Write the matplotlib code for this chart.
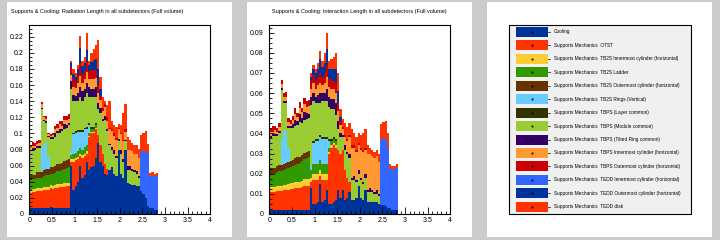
import numpy as np
import matplotlib.pyplot as plt
from matplotlib.patches import Rectangle
from matplotlib.ticker import MultipleLocator, FuncFormatter

plt.rcParams['font.family'] = ['Liberation Sans', 'DejaVu Sans']

# bin edges of the eta histograms (0.05 wide, 0 .. 2.85)
edges = np.linspace(0, 2.85, 58)

labels = [
    "Cooling",
    "Supports Mechanics  OTST",
    "Supports Mechanics  TB2S Innermost cylinder (horizontal)",
    "Supports Mechanics  TB2S Ladder",
    "Supports Mechanics  TB2S Outermost cylinder (horizontal)",
    "Supports Mechanics  TB2S Rings (Vertical)",
    "Supports Mechanics  TBPS (Layer common)",
    "Supports Mechanics  TBPS (Module common)",
    "Supports Mechanics  TBPS (Tilted Ring common)",
    "Supports Mechanics  TBPS Innermost cylinder (horizontal)",
    "Supports Mechanics  TBPS Outermost cylinder (horizontal)",
    "Supports Mechanics  TEDD Innermost cylinder (horizontal)",
    "Supports Mechanics  TEDD Outermost cylinder (horizontal)",
    "Supports Mechanics  TEDD disk",
]
colors = ['#003399', '#ff3300', '#ffcc33', '#339900', '#663300', '#66ccff', '#333300',
          '#99cc33', '#330066', '#ff9933', '#cc0000', '#3366ff', '#003399', '#ff3300']

# ---- radiation length ----
cool_r = [.007, .007, .007, .007, .007, .007, .008, .008, .008, .009,
          .008, .008, .008, .008, .008, .008, .008, .008, .060, .030,
          .035, .040, .060, .045, .048, .065, .055, .058, .060, .070,
          .088, .065, .060, .050, .048, .055, .058, .050, .047, .080,
          .050, .045, .080, .038, .037, .036, .036, .035, .035, .028,
          .025, .020, .010, .007, .007, .005, .005]
otst_r = [.019, .020, .020, .021, .021, .021, .022, .022, .022, .023,
          .023, .024, .024, .025, .025, .026, .027, .027, .005, .035,
          .032, .028, .012, .025, .024, .010, .040, .042, .040, .035,
          .010, .020, .015, .012, .008, 0, 0, 0, 0, 0,
          0, 0, 0, 0, 0, 0, 0, 0, 0, 0,
          0, 0, 0, 0, 0, 0, 0]
tb2s_in_r = [.004, .004, .004, .004, .004, .004, .004, .004, .004, .004,
             .004, .004, .005, .004, .004, .005, .004, .004, .003, .003,
             .003, .003, .003, .003, .003, .003, .002, .002, .002, .002,
             0, 0, 0, 0, 0, 0, 0, 0, 0, 0,
             0, 0, 0, 0, 0, 0, 0, 0, 0, 0,
             0, 0, 0, 0, 0, 0, 0]
tb2s_lad_r = [.012, .012, .012, .013, .013, .013, .013, .014, .014, .014,
              .015, .015, .016, .016, .017, .017, .018, .019, .005, .006,
              .006, .007, .007, .007, .008, .008, .004, .004, .004, .004,
              0, 0, 0, 0, 0, 0, 0, 0, 0, 0,
              0, 0, 0, 0, 0, 0, 0, 0, 0, 0,
              0, 0, 0, 0, 0, 0, 0]
tb2s_out_r = [.006, .006, .006, .007, .007, .007, .007, .008, .008, .008,
              .008, .009, .009, .009, .009, .010, .010, .010, 0, 0,
              0, 0, 0, 0, 0, 0, 0, 0, 0, 0,
              0, 0, 0, 0, 0, 0, 0, 0, 0, 0,
              0, 0, 0, 0, 0, 0, 0, 0, 0, 0,
              0, 0, 0, 0, 0, 0, 0]
rings_r = [0, 0, 0, 0, 0, .030, .033, .033, .015, 0,
           0, 0, 0, 0, 0, 0, 0, 0, .005, .025,
           .025, .024, .020, .022, .022, .020, .010, 0, 0, 0,
           0, 0, 0, 0, 0, 0, 0, 0, 0, 0,
           0, 0, 0, 0, 0, 0, 0, 0, 0, 0,
           0, 0, 0, 0, 0, 0, 0]
layer_r = [0, 0, 0, 0, 0, 0, 0, 0, 0, 0,
           0, 0, 0, 0, 0, 0, 0, 0, 0, .002,
           .002, .002, .002, .002, .002, .002, .002, .002, .002, .002,
           0, 0, 0, 0, 0, 0, 0, 0, 0, 0,
           0, 0, 0, 0, 0, 0, 0, 0, 0, 0,
           0, 0, 0, 0, 0, 0, 0]
module_r = [.030, .031, .031, .030, .030, .048, .028, .024, .024, .035,
            .035, .036, .038, .039, .040, .040, .040, .042, .077, .039,
            .037, .036, .041, .036, .038, .042, .032, .037, .037, .032,
            .032, .040, .040, .055, .047, .030, .022, .025, .023, .010,
            .025, .020, .010, .017, .017, .017, .016, .015, .010, 0,
            0, 0, 0, 0, 0, 0, 0]
tilted_r = [.002, .002, .002, .002, .002, .002, .002, .002, .002, .002,
            .002, .004, .003, .005, .002, .006, .004, .003, .010, .008,
            .006, .010, .012, .012, .010, .012, .012, .010, .010, .012,
            .008, .006, .003, .004, .003, .002, .003, .004, .002, .003,
            .004, .003, .002, .004, .005, .003, .002, .003, .002, 0,
            0, 0, 0, 0, 0, 0, 0]
tbps_in_r = [.003, .002, .002, .003, .004, .004, .003, .003, .002, .002,
             .003, .005, .004, .006, .004, .005, .006, .005, .008, .010,
             .010, .012, .014, .010, .012, .014, .010, .012, .012, .012,
             .012, .010, .010, .012, .010, .018, .020, .018, .020, .012,
             .020, .022, .010, .020, .020, .022, .020, .022, .022, 0,
             0, 0, 0, 0, 0, 0, 0]
tbps_out_r = [.003, .005, .004, .003, .004, .003, .002, .004, .002, .002,
              .003, .004, .005, .004, .006, .005, .004, .006, .010, .010,
              .008, .010, .015, .012, .010, .012, .010, .012, .012, .010,
              .010, .006, .004, .003, .004, .002, .002, .003, .002, .002,
              .002, .002, .003, 0, 0, 0, 0, 0, 0, 0,
              0, 0, 0, 0, 0, 0, 0]
tedd_in_r = [0, 0, 0, 0, 0, 0, 0, 0, 0, 0,
             0, 0, 0, 0, 0, 0, 0, 0, 0, 0,
             0, 0, 0, 0, 0, 0, 0, 0, 0, 0,
             0, 0, 0, 0, 0, 0, 0, 0, 0, 0,
             0, 0, 0, 0, 0, 0, 0, 0, 0, .050,
             .053, .058, .065, .040, .040, .042, .042]
tedd_out_r = [0, 0, 0, 0, 0, 0, 0, 0, 0, 0,
              0, 0, 0, 0, 0, 0, 0, 0, .004, .006,
              .006, .008, .020, .010, .010, .016, .008, .010, .012, .013,
              .020, .008, 0, 0, 0, 0, 0, 0, 0, 0,
              0, 0, 0, 0, 0, 0, 0, 0, 0, 0,
              0, 0, 0, 0, 0, 0, 0]
tedd_disk_r = [0, 0, 0, 0, 0, 0, 0, 0, 0, 0,
               0, 0, 0, 0, 0, 0, 0, 0, .003, .006,
               .005, .005, .015, .006, .008, .020, .005, .011, .014, .018,
               .036, .015, .013, .004, .015, .033, .010, .010, .014, .005,
               .009, .033, .032, .016, .013, .010, .012, .010, .012, .020,
               .022, .025, .012, .004, .005, .003, .004]

# ---- interaction length ----
cool_i = [.0020, .0020, .0019, .0020, .0021, .0020, .0020, .0019, .0020, .0021,
          .0020, .0020, .0021, .0020, .0020, .0021, .0020, .0020, .013, .005,
          .005, .006, .015, .006, .007, .012, .005, .005, .006, .007,
          .012, .008, .012, .007, .008, .011, .007, .007, .008, .014,
          .008, .007, .012, .006, .006, .006, .006, .006, .005, .0045,
          .0045, .004, .003, .003, .002, .002, .002]
otst_i = [.009, .009, .009, .0095, .0095, .0095, .010, .010, .010, .0105,
          .0105, .011, .011, .011, .0115, .012, .012, .012, .003, .012,
          .012, .011, .004, .011, .010, .005, .025, .028, .028, .026,
          .020, .022, .020, .015, .010, .005, 0, 0, 0, 0,
          0, 0, 0, 0, 0, 0, 0, 0, 0, 0,
          0, 0, 0, 0, 0, 0, 0]
tb2s_in_i = [.0022, .0022, .0023, .0024, .0024, .0025, .0025, .0026, .0027, .0027,
             .0028, .0029, .0030, .0030, .0031, .0032, .0033, .0034, .002, .003,
             .003, .003, .003, .003, .003, .003, .001, .001, .001, .001,
             0, 0, 0, 0, 0, 0, 0, 0, 0, 0,
             0, 0, 0, 0, 0, 0, 0, 0, 0, 0,
             0, 0, 0, 0, 0, 0, 0]
tb2s_lad_i = [.0066, .0067, .0068, .0070, .0072, .0073, .0075, .0077, .0079, .0081,
              .0083, .0086, .0089, .0092, .0095, .0099, .0103, .0107, .004, .005,
              .005, .005, .005, .005, .005, .005, .002, .002, .002, .002,
              0, 0, 0, 0, 0, 0, 0, 0, 0, 0,
              0, 0, 0, 0, 0, 0, 0, 0, 0, 0,
              0, 0, 0, 0, 0, 0, 0]
tb2s_out_i = [.0028, .0028, .0029, .0029, .0030, .0030, .0030, .0031, .0031, .0031,
              .0032, .0032, .0032, .0033, .0033, .0033, .0034, .0034, 0, 0,
              0, 0, 0, 0, 0, 0, 0, 0, 0, 0,
              0, 0, 0, 0, 0, 0, 0, 0, 0, 0,
              0, 0, 0, 0, 0, 0, 0, 0, 0, 0,
              0, 0, 0, 0, 0, 0, 0]
rings_i = [0, 0, 0, 0, 0, .013, .016, .016, .007, 0,
           0, 0, 0, 0, 0, 0, 0, 0, .002, .010,
           .011, .011, .011, .012, .012, .012, .003, 0, 0, 0,
           0, 0, 0, 0, 0, 0, 0, 0, 0, 0,
           0, 0, 0, 0, 0, 0, 0, 0, 0, 0,
           0, 0, 0, 0, 0, 0, 0]
layer_i = [0, 0, 0, 0, 0, 0, 0, 0, 0, 0,
           0, 0, 0, 0, 0, 0, 0, 0, 0, .001,
           .001, .001, .001, .001, .001, .001, .001, .001, .001, .001,
           0, 0, 0, 0, 0, 0, 0, 0, 0, 0,
           0, 0, 0, 0, 0, 0, 0, 0, 0, 0,
           0, 0, 0, 0, 0, 0, 0]
module_i = [.015, .016, .016, .015, .016, .024, .014, .014, .010, .016,
            .016, .016, .016, .017, .016, .016, .016, .016, .030, .020,
            .018, .018, .016, .018, .018, .018, .016, .015, .014, .012,
            .010, .008, .006, .010, .012, .012, .010, .010, .008, .006,
            .009, .008, .006, .005, .005, .005, .004, .004, .004, 0,
            0, 0, 0, 0, 0, 0, 0]
tilted_i = [.001, .001, .001, .001, .001, .001, .001, .001, .001, .001,
            .002, .003, .002, .004, .002, .004, .003, .002, .004, .004,
            .003, .004, .005, .004, .004, .006, .005, .005, .005, .006,
            .004, .002, .001, .002, .001, .002, .001, .002, .001, .002,
            .001, .001, .002, .001, .002, .001, .001, .002, .001, 0,
            0, 0, 0, 0, 0, 0, 0]
tbps_in_i = [.002, .001, .002, .001, .002, .002, .002, .002, .002, .001,
             .002, .003, .002, .003, .003, .004, .003, .004, .004, .005,
             .004, .005, .005, .004, .005, .006, .005, .005, .005, .005,
             .005, .004, .003, .004, .005, .008, .015, .014, .014, .012,
             .014, .015, .012, .018, .017, .017, .017, .017, .016, 0,
             0, 0, 0, 0, 0, 0, 0]
tbps_out_i = [.002, .003, .002, .002, .002, .002, .002, .002, .002, .002,
              .002, .003, .002, .003, .002, .003, .003, .003, .004, .004,
              .004, .004, .005, .004, .005, .006, .004, .005, .004, .005,
              .004, .002, .001, .001, .001, .001, .001, .001, .001, .001,
              .001, .001, .001, 0, 0, 0, 0, 0, 0, 0,
              0, 0, 0, 0, 0, 0, 0]
tedd_in_i = [0, 0, 0, 0, 0, 0, 0, 0, 0, 0,
             0, 0, 0, 0, 0, 0, 0, 0, 0, 0,
             0, 0, 0, 0, 0, 0, 0, 0, 0, 0,
             0, 0, 0, 0, 0, 0, 0, 0, 0, 0,
             0, 0, 0, 0, 0, 0, 0, 0, 0, .032,
             .033, .033, .030, .020, .020, .021, .021]
tedd_out_i = [0, 0, 0, 0, 0, 0, 0, 0, 0, 0,
              0, 0, 0, 0, 0, 0, 0, 0, .002, .003,
              .004, .004, .007, .005, .005, .008, .005, .005, .006, .007,
              .006, .002, 0, 0, 0, 0, 0, 0, 0, 0,
              0, 0, 0, 0, 0, 0, 0, 0, 0, 0,
              0, 0, 0, 0, 0, 0, 0]
tedd_disk_i = [0, 0, 0, 0, 0, 0, 0, 0, 0, 0,
               0, 0, 0, 0, 0, 0, 0, 0, .002, .002,
               .002, .003, .004, .003, .005, .008, .004, .005, .006, .008,
               .009, .004, .004, .006, .006, .006, .008, .006, .006, .005,
               .006, .008, .009, .004, .003, .003, .003, .003, .004, .008,
               .008, .009, .007, .002, .002, .001, .002]

rad = [cool_r, otst_r, tb2s_in_r, tb2s_lad_r, tb2s_out_r, rings_r, layer_r,
       module_r, tilted_r, tbps_in_r, tbps_out_r, tedd_in_r, tedd_out_r, tedd_disk_r]
inter = [cool_i, otst_i, tb2s_in_i, tb2s_lad_i, tb2s_out_i, rings_i, layer_i,
         module_i, tilted_i, tbps_in_i, tbps_out_i, tedd_in_i, tedd_out_i, tedd_disk_i]

W, H = 720, 240
fig = plt.figure(figsize=(7.2, 2.4), dpi=100)
fig.patch.set_facecolor('#cccccc')

# white pads
for x0, x1 in [(7, 232), (247, 472), (487, 712)]:
    fig.add_artist(Rectangle((x0 / W, 1 - 237 / H), (x1 - x0) / W, 235 / H,
                             transform=fig.transFigure, facecolor='white',
                             edgecolor='none', zorder=0))


def stack(ax, series, ytop, ymajor, yminor):
    bottom = np.zeros(len(edges) - 1)
    for vals, c in zip(series, colors):
        v = np.array(vals, dtype=float)
        ax.stairs(bottom + v, edges, baseline=bottom.copy(), fill=True,
                  color=c, lw=0)
        bottom = bottom + v
    ax.set_xlim(0, 4)
    ax.set_ylim(0, ytop)
    ax.xaxis.set_major_locator(MultipleLocator(0.5))
    ax.xaxis.set_minor_locator(MultipleLocator(0.1))
    ax.yaxis.set_major_locator(MultipleLocator(ymajor))
    ax.yaxis.set_minor_locator(MultipleLocator(yminor))
    fmt = FuncFormatter(lambda v, p: '%g' % round(v, 4))
    ax.xaxis.set_major_formatter(fmt)
    ax.yaxis.set_major_formatter(fmt)
    ax.tick_params(which='both', direction='in', labelsize=5, width=0.6)
    ax.tick_params(axis='x', which='major', length=4.8, pad=2)
    ax.tick_params(axis='x', which='minor', length=2.4)
    ax.tick_params(axis='y', which='major', length=3.9, pad=4)
    ax.tick_params(axis='y', which='minor', length=2)
    for s in ax.spines.values():
        s.set_linewidth(0.8)


ax1 = fig.add_axes([29.3 / W, 1 - 214 / H, 181 / W, 189 / H])
stack(ax1, rad, 0.2345, 0.02, 0.005)
ax2 = fig.add_axes([269.3 / W, 1 - 214 / H, 181 / W, 189 / H])
stack(ax2, inter, 0.0938, 0.01, 0.0025)

fig.text(11 / W, 1 - 11 / H,
         "Supports & Cooling: Radiation Length in all subdetectors (Full volume)",
         fontsize=4, ha='left', va='center')
fig.text(359 / W, 1 - 11 / H,
         "Supports & Cooling: Interaction Length in all subdetectors (Full volume)",
         fontsize=4, ha='center', va='center')

# legend pad
axl = fig.add_axes([0, 0, 1, 1])
axl.set_xlim(0, W)
axl.set_ylim(H, 0)
axl.axis('off')
axl.patch.set_alpha(0)
axl.add_patch(Rectangle((509, 25), 182, 189, facecolor='#f0f0f0',
                        edgecolor='black', lw=0.8))
for k, (lab, c) in enumerate(zip(labels, colors)):
    yc = 32 + k * 13.44
    axl.add_patch(Rectangle((516, yc - 5), 32, 10, facecolor=c, edgecolor='none'))
    axl.plot([532], [yc], marker='.', color='black', ms=1)
    axl.plot([547.5, 549.5], [yc, yc], color='black', lw=0.5)
    axl.text(554, yc, lab, fontsize=3.4, ha='left', va='center')

fig.savefig('out.png', dpi=100, facecolor=fig.get_facecolor())
